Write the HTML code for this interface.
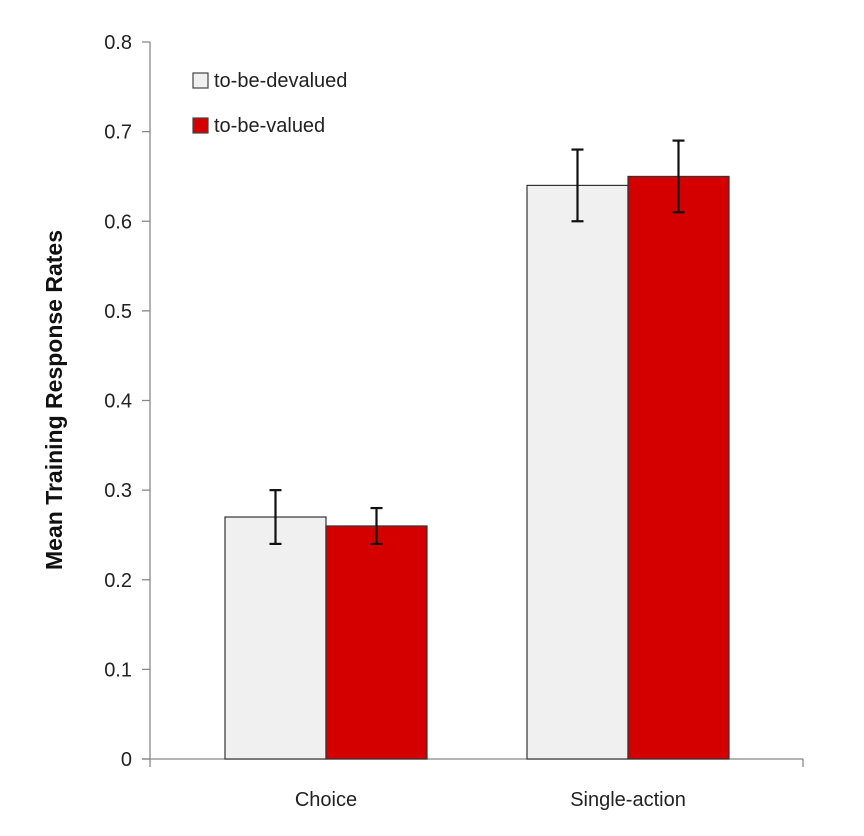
<!DOCTYPE html>
<html><head><meta charset="utf-8"><style>
body{margin:0;background:#fff;}
svg{display:block;font-family:"Liberation Sans",sans-serif;}
</style></head><body>
<svg id="chart" width="864" height="836">
<g id="axes"></g><g id="bars"></g>
<text transform="translate(62,400) rotate(-90)" text-anchor="middle" font-size="23" font-weight="bold" fill="#111">Mean Training Response Rates</text>
<g>
<rect x="193" y="73" width="15" height="15" fill="#f0f0f0" stroke="#444" stroke-width="1.2"/>
<text x="214" y="87" font-size="20" fill="#222">to-be-devalued</text>
<rect x="193" y="118" width="15" height="15" fill="#d40000" stroke="#444" stroke-width="1.2"/>
<text x="214" y="132" font-size="20" fill="#222">to-be-valued</text>
</g>
</svg>
<script>
const categories=["Choice","Single-action"];
const devalued=[0.27,0.64];
const valued=[0.26,0.65];
const devaluedErr=[0.03,0.04];
const valuedErr=[0.02,0.04];
const yTicks=[0,0.1,0.2,0.3,0.4,0.5,0.6,0.7,0.8];
const yTickLabels=["0","0.1","0.2","0.3","0.4","0.5","0.6","0.7","0.8"];

const NS="http://www.w3.org/2000/svg";
const x0=150,x1=803,yBase=759,yTop=42;
const bandStart=175,catW=302,barW=101;
const y=v=>yBase-(v/0.8)*(yBase-yTop);
const cx=i=>bandStart+catW*(i+0.5);
function mk(tag,attrs,parent){const e=document.createElementNS(NS,tag);for(const k in attrs)e.setAttribute(k,attrs[k]);parent.appendChild(e);return e;}
const axes=document.getElementById('axes'),bars=document.getElementById('bars');
let a=mk('line',{x1:x0,y1:yTop,x2:x0,y2:yBase+8,stroke:'#888','stroke-width':1.3},axes);

a=mk('line',{x1:x0-8,y1:yBase,x2:x1,y2:yBase,stroke:'#888','stroke-width':1.3},axes);

a=mk('line',{x1:x1,y1:yBase,x2:x1,y2:yBase+8,stroke:'#888','stroke-width':1.3},axes);

yTicks.forEach((t,i)=>{
 const l=mk('line',{x1:x0-8,y1:y(t),x2:x0,y2:y(t),stroke:'#888','stroke-width':1.3},axes);
 
 const tx=mk('text',{x:x0-18,y:y(t)+7,'text-anchor':'end','font-size':20,fill:'#222'},axes);
 tx.textContent=yTickLabels[i];
 
});
categories.forEach((c,i)=>{
 const t=mk('text',{x:cx(i),y:yBase+47,'text-anchor':'middle','font-size':20,fill:'#222'},axes);
 t.textContent=c;
 
 const series=[[devalued,devaluedErr,'#f0f0f0','devalued',-1],[valued,valuedErr,'#d40000','valued',0]];
 series.forEach(([vals,errs,col,nm,off])=>{
  const bx=cx(i)+off*barW;
  const r=mk('rect',{x:bx,y:y(vals[i]),width:barW,height:yBase-y(vals[i]),fill:col,stroke:'#333','stroke-width':1.2},bars);
  
  const ex=bx+barW/2,hi=y(vals[i]+errs[i]),lo=y(vals[i]-errs[i]);
  const g=mk('g',{stroke:'#111','stroke-width':2.2},bars);
  
  mk('line',{x1:ex,y1:hi,x2:ex,y2:lo},g);
  mk('line',{x1:ex-6,y1:hi,x2:ex+6,y2:hi},g);
  mk('line',{x1:ex-6,y1:lo,x2:ex+6,y2:lo},g);
 });
});
</script>
</body></html>
